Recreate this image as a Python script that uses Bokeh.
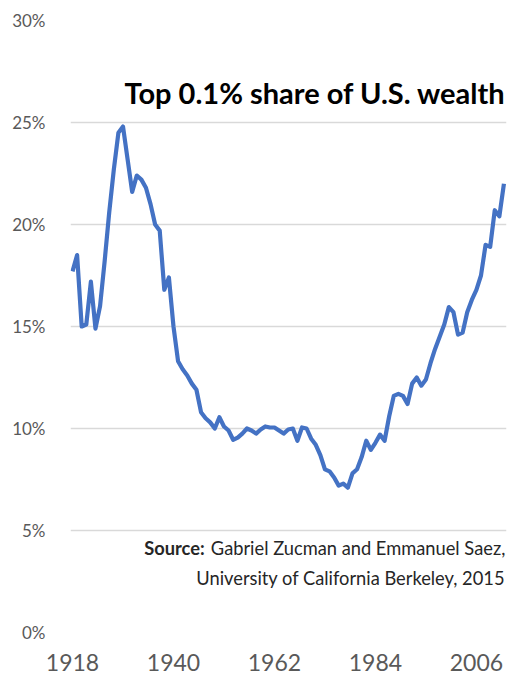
from bokeh.plotting import figure
from bokeh.models import Range1d, FixedTicker, PrintfTickFormatter, Label
from bokeh.embed import file_html
from bokeh.resources import INLINE

years = list(range(1918, 2013))
share = [
    17.7, 18.5, 15.0, 15.1, 17.2, 14.9, 16.0, 18.2, 20.6, 22.7,   # 1918-1927
    24.5, 24.8, 23.2, 21.6, 22.4, 22.2, 21.8, 21.0, 20.0, 19.7,   # 1928-1937
    16.8, 17.4, 15.0, 13.3, 12.9, 12.6, 12.2, 11.9, 10.8, 10.5,   # 1938-1947
    10.3, 10.0, 10.55, 10.1, 9.9, 9.45, 9.55, 9.75, 10.0, 9.9,    # 1948-1957
    9.75, 9.95, 10.1, 10.05, 10.05, 9.9, 9.75, 9.95, 10.0, 9.4,   # 1958-1967
    10.05, 10.0, 9.5, 9.2, 8.7, 8.0, 7.9, 7.6, 7.2, 7.3,          # 1968-1977
    7.1, 7.8, 8.0, 8.6, 9.4, 8.95, 9.3, 9.7, 9.4, 10.6,           # 1978-1987
    11.6, 11.7, 11.6, 11.2, 12.2, 12.5, 12.1, 12.4, 13.2, 13.9,   # 1988-1997
    14.5, 15.1, 15.95, 15.7, 14.6, 14.7, 15.7, 16.3, 16.8, 17.5,  # 1998-2007
    19.0, 18.9, 20.7, 20.4, 22.0,                                 # 2008-2012
]
x_ticks = [1918, 1940, 1962, 1984, 2006]
y_ticks = [0, 5, 10, 15, 20, 25, 30]

title_text = "Top 0.1% share of U.S. wealth"
source_label = "Source:"
source_line1 = "Gabriel Zucman and Emmanuel Saez,"
source_line2 = "University of California Berkeley, 2015"

FONT = "Lato"
GRAY = "#595959"

p = figure(width=508, height=677, output_backend="svg", toolbar_location=None,
           x_range=Range1d(1917.56, 2012.56), y_range=Range1d(0, 30),
           min_border_left=70, min_border_right=2, min_border_top=20,
           min_border_bottom=45)
p.outline_line_color = None
p.background_fill_color = "white"

p.line(years, share, line_color="#4472C4", line_width=4.2, line_join="round")

p.xaxis.ticker = FixedTicker(ticks=x_ticks)
p.yaxis.ticker = FixedTicker(ticks=y_ticks)
p.yaxis.formatter = PrintfTickFormatter(format="%d%%")
for ax in (p.xaxis[0], p.yaxis[0]):
    ax.axis_line_color = None
    ax.major_tick_line_color = None
    ax.minor_tick_line_color = None
    ax.major_label_text_color = GRAY
    ax.major_label_text_font = FONT
p.yaxis.major_label_text_font_size = "17px"
p.yaxis.major_label_standoff = 19
p.xaxis.major_label_text_font_size = "23px"
p.xaxis.major_label_standoff = 15

p.xgrid.grid_line_color = None
p.ygrid.grid_line_color = "#d9d9d9"
p.ygrid.grid_line_width = 1.5

p.add_layout(Label(x=2012.4, y=26.45, text=title_text, text_align="right",
                   text_baseline="middle", text_font=FONT, text_font_style="bold",
                   text_font_size="29px", text_color="black"))
p.add_layout(Label(x=2012.3, y=4.15, text=source_line1, text_align="right",
                   text_baseline="middle", text_font=FONT, text_font_size="18.3px",
                   text_color="#262626"))
p.add_layout(Label(x=1946.8, y=4.15, text=source_label, text_align="right",
                   text_baseline="middle", text_font=FONT, text_font_style="bold",
                   text_font_size="18.3px", text_color="#262626"))
p.add_layout(Label(x=2012.3, y=2.68, text=source_line2, text_align="right",
                   text_baseline="middle", text_font=FONT, text_font_size="18.3px",
                   text_color="#262626"))

open("out.html", "w").write(file_html(p, INLINE))
